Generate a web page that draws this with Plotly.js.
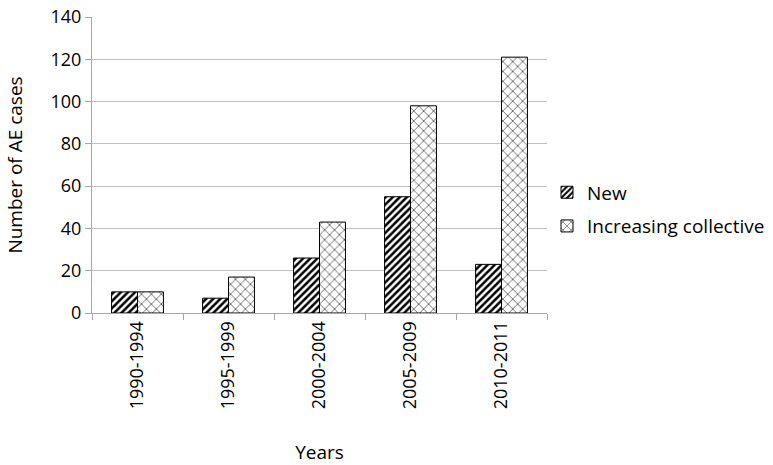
<!DOCTYPE html>
<html>
<head>
<meta charset="utf-8">
<script src="https://cdn.plot.ly/plotly-3.0.1.min.js"></script>
<style>
  body { margin: 0; background: #fff; }
  #chart { width: 773px; height: 465px; }
</style>
</head>
<body>
<div id="chart"></div>
<script>
// periods on the x axis
const periods = ['1990-1994', '1995-1999', '2000-2004', '2005-2009', '2010-2011'];
// case counts per period
const newCases = [10, 7, 26, 55, 23];
const increasingCollective = [10, 17, 43, 98, 121];

const axisFont = { family: 'Open Sans, sans-serif', size: 18, color: '#000000' };
const legendFont = { family: 'Open Sans, sans-serif', size: 19, color: '#000000' };

Plotly.newPlot('chart', [{
    x: periods,
    y: newCases,
    type: 'bar',
    name: 'New',
    legendgroup: 'a',
    marker: {
        color: '#ffffff',
        line: { color: '#000000', width: 1 },
        pattern: { shape: '/', fgcolor: '#000000', bgcolor: '#ffffff', size: 5, solidity: 0.5 }
    }
}, {
    x: periods,
    y: increasingCollective,
    type: 'bar',
    name: 'Increasing collective',
    legendgroup: 'b',
    marker: {
        color: '#ffffff',
        line: { color: '#000000', width: 1 },
        pattern: { shape: 'x', fgcolor: '#000000', bgcolor: '#ffffff', size: 7, solidity: 0.15 }
    }
}], {
    width: 773,
    height: 465,
    margin: { l: 92, r: 226, t: 17, b: 152, autoexpand: false },
    barmode: 'group',
    bargap: 0.43,
    bargroupgap: 0,
    showlegend: true,
    legend: {
        x: 1.0, y: 0.35, xanchor: 'left', yanchor: 'middle',
        font: legendFont,
        traceorder: 'grouped',
        tracegroupgap: 6
    },
    xaxis: {
        type: 'category',
        tickson: 'boundaries',
        ticks: 'outside',
        ticklen: 6,
        tickcolor: '#a6a6a6',
        tickangle: -90,
        tickfont: axisFont,
        showline: true,
        linecolor: '#a6a6a6',
        showgrid: false,
        title: { text: 'Years', font: legendFont, standoff: 42 }
    },
    yaxis: {
        range: [0, 140],
        dtick: 20,
        ticks: 'outside',
        ticklen: 6,
        tickcolor: '#a6a6a6',
        tickfont: axisFont,
        showline: true,
        linecolor: '#a6a6a6',
        gridcolor: '#bfbfbf',
        zeroline: false,
        title: { text: 'Number of AE cases', font: legendFont, standoff: 22 }
    },
    plot_bgcolor: '#ffffff',
    paper_bgcolor: '#ffffff'
}, { displayModeBar: false });
</script>
</body>
</html>
